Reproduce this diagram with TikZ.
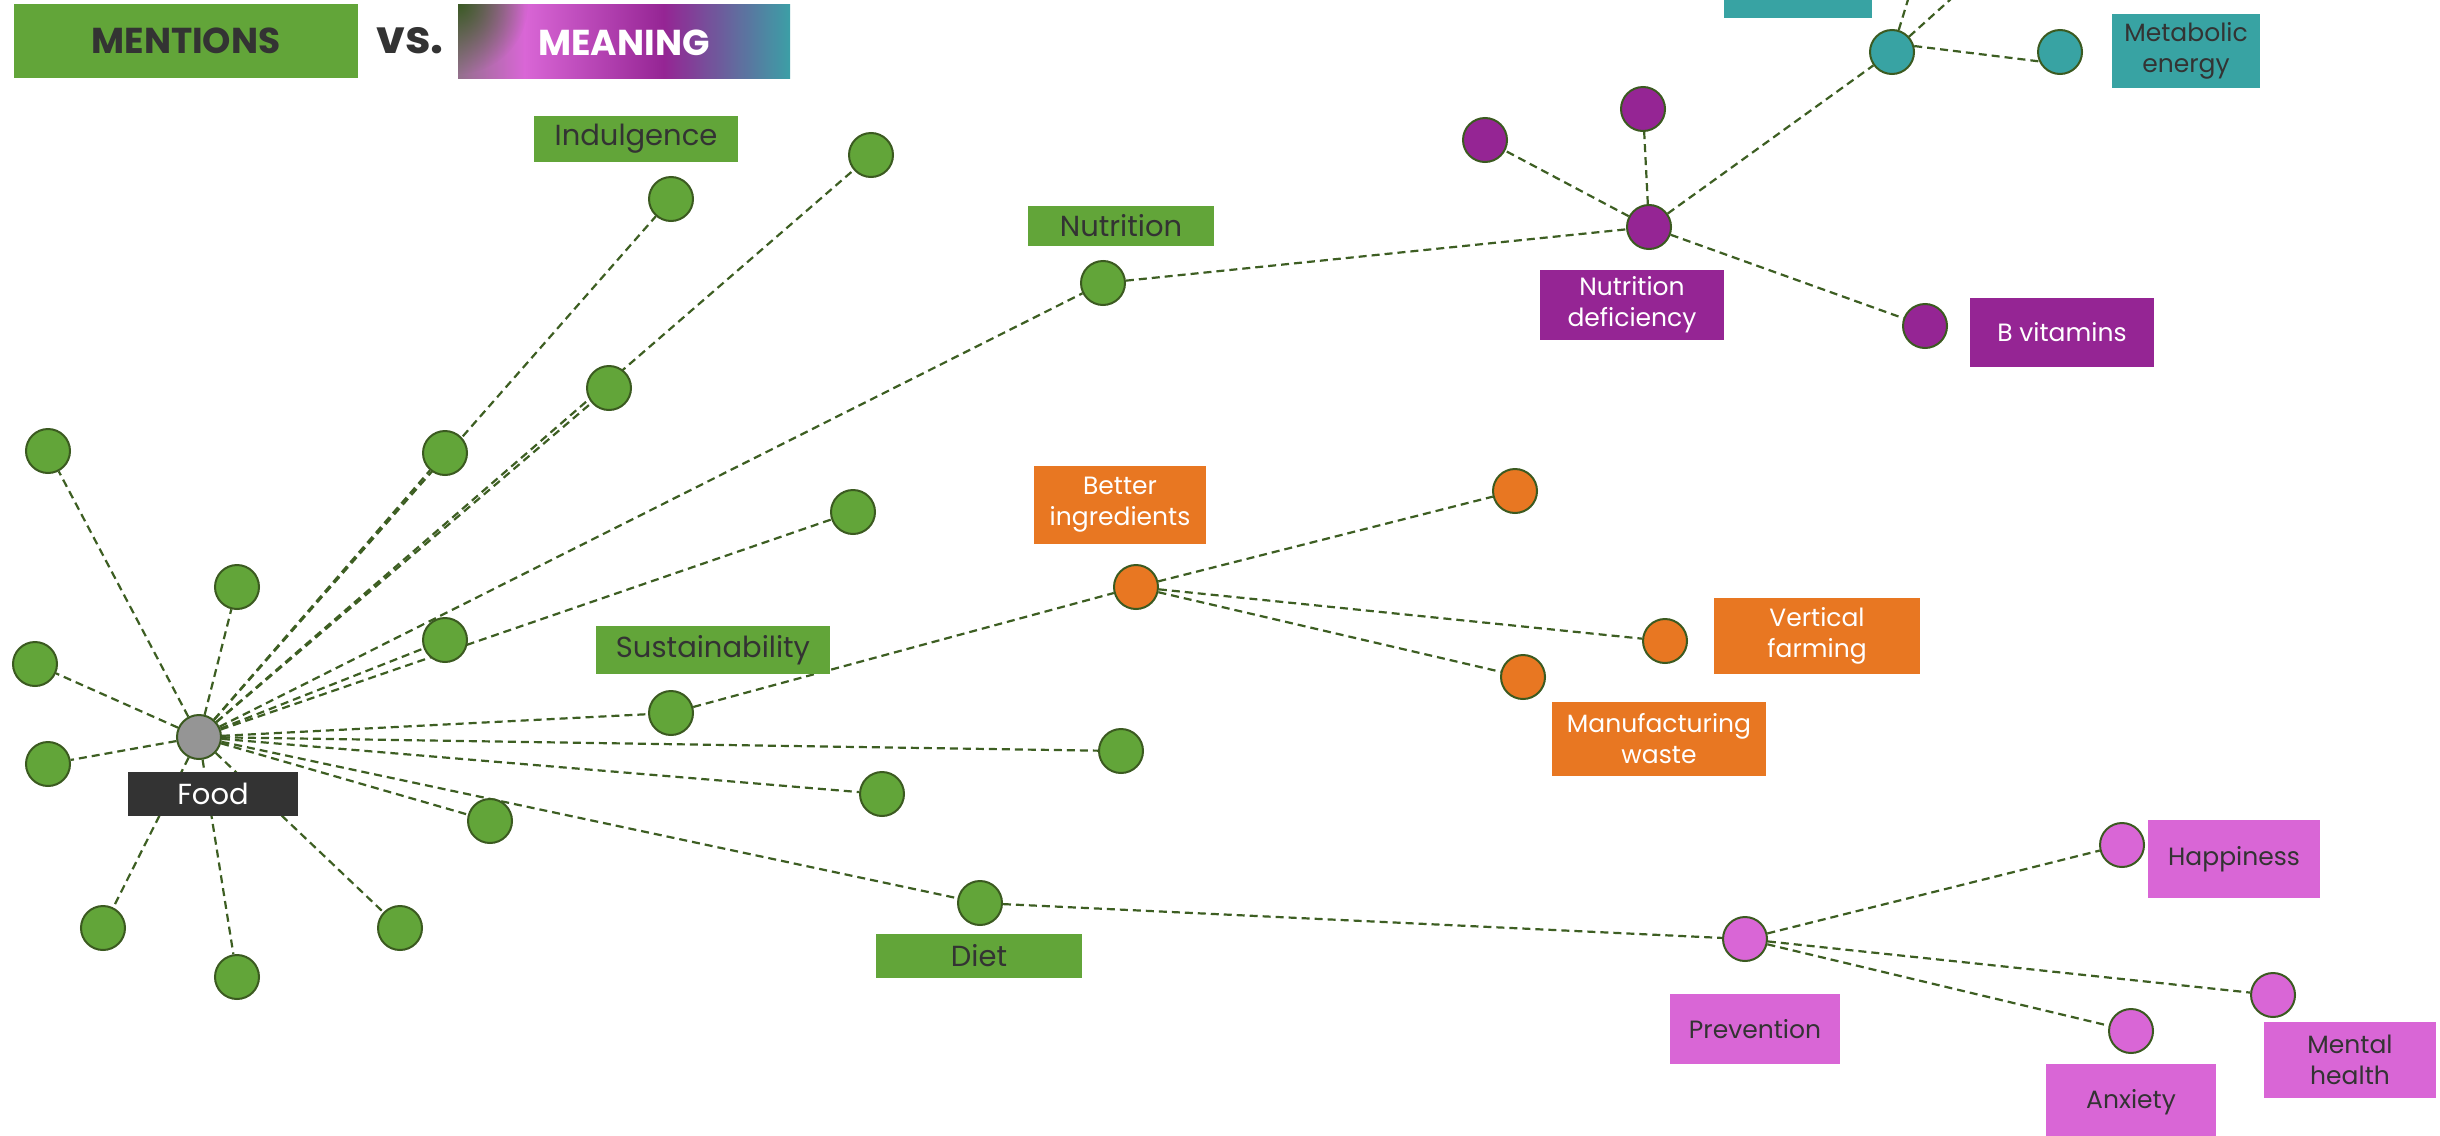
\documentclass[tikz,border=0pt]{standalone}
\usepackage{fontspec}
\setmainfont{Poppins}
\usetikzlibrary{backgrounds,fadings}
\definecolor{gr}{HTML}{62A539}
\definecolor{edgec}{HTML}{3D5E22}
\definecolor{ringc}{HTML}{3B5A20}
\definecolor{pu}{HTML}{952594}
\definecolor{te}{HTML}{38A3A3}
\definecolor{orc}{HTML}{E87722}
\definecolor{pk}{HTML}{D966D6}
\definecolor{dk}{HTML}{333333}
\definecolor{gy}{HTML}{959595}
\definecolor{mA}{HTML}{93708C}
\definecolor{mB}{HTML}{D966D6}
\definecolor{mC}{HTML}{952594}
\definecolor{mD}{HTML}{3C9FA6}
\definecolor{mG}{HTML}{3B5A25}
\pgfdeclarehorizontalshading{meaningshade}{100bp}{color(0bp)=(mA); color(25bp)=(mA); color(35bp)=(mB); color(56bp)=(mC); color(75bp)=(mD); color(100bp)=(mD)}
\tikzfading[name=cornerfade, inner color=transparent!0, outer color=transparent!100]
\begin{document}
\begin{tikzpicture}[x=1pt,y=-1pt,
  cdot/.style={circle, draw=ringc, line width=2pt, minimum size=44pt, inner sep=0pt},
  gdot/.style={cdot, fill=gr},
  link/.style={draw=edgec, line width=2.2pt, dash pattern=on 8pt off 5pt},
  tag/.style={inner sep=0pt, align=center, font=\fontsize{25}{31}\selectfont},
  gtag/.style={tag, fill=gr, text=dk, font=\fontsize{29}{35}\selectfont},
  ttl/.style={inner sep=0pt, font=\fontsize{36}{40}\selectfont\bfseries}
]
\useasboundingbox (0,0) rectangle (2440,1135);

% title
\node[ttl, fill=gr, text=dk, minimum width=344pt, minimum height=74pt] (mentions) at (186,41) {MENTIONS};
\node[inner sep=0pt, text=dk, font=\fontsize{46}{50}\selectfont\bfseries] (vs) at (410,41) {vs.};
\shade[shading=meaningshade] (458,4) rectangle (790,78);
\begin{scope}
\clip (458,4) rectangle (790,78);
\fill[mG, path fading=cornerfade, fit fading=true] (458,4) circle (70);
\end{scope}
\node[ttl, text=white] (meaning) at (624,43) {MEANING};

% green nodes
\node[cdot, fill=gy] (F) at (199,737) {};
\node[gdot] (g1) at (48,451) {};
\node[gdot] (g2) at (237,587) {};
\node[gdot] (g3) at (35,664) {};
\node[gdot] (g4) at (48,764) {};
\node[gdot] (g5) at (103,928) {};
\node[gdot] (g6) at (237,977) {};
\node[gdot] (g7) at (400,928) {};
\node[gdot] (g8) at (490,821) {};
\node[gdot] (g9) at (445,453) {};
\node[gdot] (g10) at (671,199) {};
\node[gdot] (g11) at (609,388) {};
\node[gdot] (g12) at (871,155) {};
\node[gdot] (g13) at (445,640) {};
\node[gdot] (g14) at (853,512) {};
\node[gdot] (nut) at (1103,283) {};
\node[gdot] (sus) at (671,713) {};
\node[gdot] (g17) at (882,794) {};
\node[gdot] (g18) at (1121,751) {};
\node[gdot] (diet) at (980,903) {};

% purple
\node[cdot, fill=pu] (ndh) at (1649,227) {};
\node[cdot, fill=pu] (p1) at (1485,140) {};
\node[cdot, fill=pu] (p2) at (1643,109) {};
\node[cdot, fill=pu] (bvit) at (1925,326) {};
% teal
\node[cdot, fill=te] (th) at (1892,52) {};
\node[cdot, fill=te] (t2) at (2060,52) {};
\coordinate (tout1) at (1914,-20);
\coordinate (tout2) at (1972,-20);
% orange
\node[cdot, fill=orc] (oh) at (1136,587) {};
\node[cdot, fill=orc] (o1) at (1515,491) {};
\node[cdot, fill=orc] (vf) at (1665,641) {};
\node[cdot, fill=orc] (mw) at (1523,677) {};
% pink
\node[cdot, fill=pk] (prev) at (1745,939) {};
\node[cdot, fill=pk] (hap) at (2122,845) {};
\node[cdot, fill=pk] (mh) at (2273,995) {};
\node[cdot, fill=pk] (anx) at (2131,1031) {};

% labels
\node[gtag, minimum width=204pt, minimum height=46pt] (lInd) at (636,139) {Indulgence};
\node[gtag, minimum width=186pt, minimum height=40pt] (lNut) at (1121,226) {Nutrition};
\node[gtag, minimum width=234pt, minimum height=48pt] (lSus) at (713,650) {Sustainability};
\node[gtag, minimum width=206pt, minimum height=44pt] (lDiet) at (979,956) {Diet};
\node[gtag, fill=dk, text=white, minimum width=170pt, minimum height=44pt] (lFood) at (213,794) {Food};
\node[tag, fill=orc, text=white, minimum width=172pt, minimum height=78pt] (lBI) at (1120,505) {Better\\ingredients};
\node[tag, fill=orc, text=white, minimum width=206pt, minimum height=76pt] (lVF) at (1817,636) {Vertical\\farming};
\node[tag, fill=orc, text=white, minimum width=214pt, minimum height=74pt] (lMW) at (1659,739) {Manufacturing\\waste};
\node[tag, fill=pu, text=white, minimum width=184pt, minimum height=70pt] (lND) at (1632,305) {Nutrition\\deficiency};
\node[tag, fill=pu, text=white, minimum width=184pt, minimum height=69pt] (lBV) at (2062,332) {B vitamins};
\node[tag, fill=te, minimum width=148pt, minimum height=48pt] (lTop) at (1798,-6) {};
\node[tag, fill=te, text=dk, minimum width=148pt, minimum height=74pt] (lME) at (2186,51) {Metabolic\\energy};
\node[tag, fill=pk, text=dk, minimum width=172pt, minimum height=78pt] (lHap) at (2234,859) {Happiness};
\node[tag, fill=pk, text=dk, minimum width=170pt, minimum height=70pt] (lPrev) at (1755,1029) {Prevention};
\node[tag, fill=pk, text=dk, minimum width=172pt, minimum height=76pt] (lMH) at (2350,1060) {Mental\\health};
\node[tag, fill=pk, text=dk, minimum width=170pt, minimum height=76pt] (lAnx) at (2131,1102) {Anxiety};

\begin{pgfonlayer}{background}
\fill[white] (0,0) rectangle (2440,1135);
\foreach \n in {g1,g2,g3,g4,g5,g6,g7,g8,g9,g10,g11,g12,g13,g14,nut,sus,g17,g18,diet}
  \draw[link] (F) -- (\n);
\draw[link] (nut) -- (ndh);
\foreach \n in {p1,p2,bvit,th} \draw[link] (ndh) -- (\n);
\draw[link] (th.15) -- (t2.204);
\foreach \n in {tout1,tout2} \draw[link] (th) -- (\n);
\draw[link] (sus) -- (oh);
\foreach \n in {o1,vf,mw} \draw[link] (oh) -- (\n);
\draw[link] (diet) -- (prev);
\foreach \n in {hap,mh,anx} \draw[link] (prev) -- (\n);
\end{pgfonlayer}
\end{tikzpicture}
\end{document}
